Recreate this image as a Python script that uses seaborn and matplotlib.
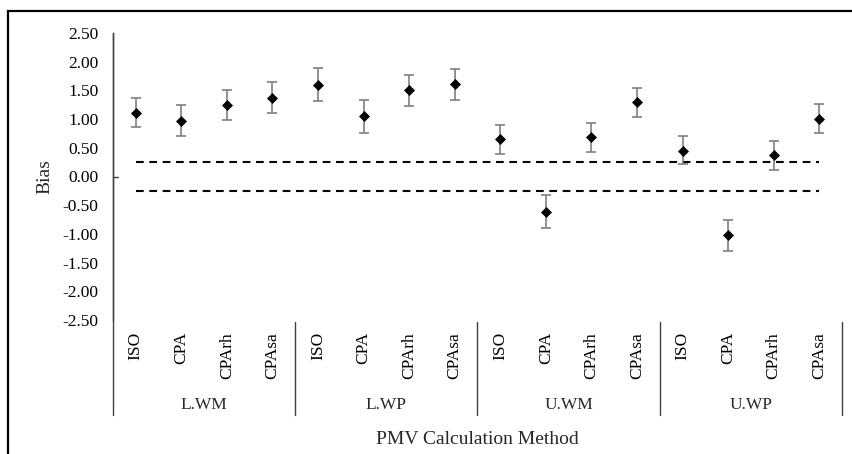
import numpy as np
import pandas as pd
import seaborn as sns
import matplotlib.pyplot as plt
from matplotlib.patches import Rectangle
from matplotlib.ticker import FuncFormatter

# data
groups = ["L.WM", "L.WP", "U.WM", "U.WP"]
methods = ["ISO", "CPA", "CPArh", "CPAsa"]
bias = [1.11, 0.97, 1.25, 1.36,
        1.60, 1.05, 1.50, 1.61,
        0.65, -0.62, 0.69, 1.30,
        0.45, -1.02, 0.37, 1.00]
err_low = [0.24, 0.27, 0.26, 0.26,
           0.28, 0.29, 0.28, 0.28,
           0.25, 0.27, 0.26, 0.26,
           0.24, 0.28, 0.25, 0.25]
err_high = [0.26, 0.27, 0.25, 0.28,
            0.29, 0.28, 0.27, 0.27,
            0.25, 0.29, 0.25, 0.25,
            0.25, 0.27, 0.25, 0.27]
limit = 0.25

df = pd.DataFrame({
    "group": np.repeat(groups, len(methods)),
    "method": methods * len(groups),
    "bias": bias,
})
df["pos"] = np.arange(len(df))

sns.set_style("white")
plt.rcParams["font.family"] = ["Liberation Serif", "DejaVu Serif"]
plt.rcParams["axes.unicode_minus"] = False

fig = plt.figure(figsize=(8.53, 4.54), dpi=100)
ax = fig.add_axes([113 / 853, 1 - 320 / 454, 729 / 853, 287 / 454])

# error bars
ax.errorbar(df["pos"], df["bias"], yerr=[err_low, err_high], fmt="none",
            ecolor="#7f7f7f", elinewidth=1.2, capsize=3.3, capthick=1.2, zorder=2)
sns.scatterplot(data=df, x="pos", y="bias", marker="D", s=26, color="black",
                edgecolor="black", linewidth=0.5, ax=ax, zorder=3, legend=False)

# acceptable range
for v in (limit, -limit):
    ax.hlines(v, df["pos"].iloc[0], df["pos"].iloc[-1], colors="black",
              linewidth=1.5, linestyles=(0, (3.7, 2.7)), zorder=1)

ax.set_xlim(-0.5, len(df) - 0.5)
ax.set_ylim(-2.5, 2.5)
ax.set_yticks(np.arange(-2.5, 2.51, 0.5))
ax.yaxis.set_major_formatter(FuncFormatter(lambda v, p: f"{v:.2f}".replace("-0.00", "0.00")))
ax.set_xticks(df["pos"])
ax.set_xticklabels(df["method"], rotation=90, va="top")
ax.tick_params(axis="y", length=0, pad=10.5, labelsize=12.5, colors="black")
ax.tick_params(axis="x", length=0, pad=8.5, labelsize=12.5, colors="black")

for s in ["top", "right", "bottom"]:
    ax.spines[s].set_visible(False)
ax.spines["left"].set_color("#404040")
ax.spines["left"].set_linewidth(1.0)

# little tick where the horizontal axis crosses
ax.plot([0, 0.007], [0, 0], color="#404040", lw=1.0,
        transform=ax.get_yaxis_transform(), clip_on=False)

# group separators and labels
trans = ax.get_xaxis_transform()
for k in range(len(groups) + 1):
    x = k * len(methods) - 0.5
    y0 = 1.0 if k == 0 else -0.007
    ax.plot([x, x], [-0.331, y0], color="#404040", lw=1.0,
            transform=trans, clip_on=False)
for k, g in enumerate(groups):
    ax.text(k * len(methods) + 1.5, -0.296, g, transform=trans,
            ha="center", va="center", fontsize=12.5)

ax.set_ylabel("Bias", fontsize=14)
ax.yaxis.set_label_coords(43 / 853 - 113 / 853, 0.5)
ax.set_xlabel("PMV Calculation Method", fontsize=14)
ax.xaxis.set_label_coords(0.5, -0.415)
ax.xaxis.label.set_va("center")

# outer chart border
fig.patches.append(Rectangle((8 / 853, -0.2), 1.2, 1.2 - 11 / 454 + 0.0,
                             transform=fig.transFigure, fill=False,
                             edgecolor="black", linewidth=1.6))

fig.savefig("out.png", dpi=100)
